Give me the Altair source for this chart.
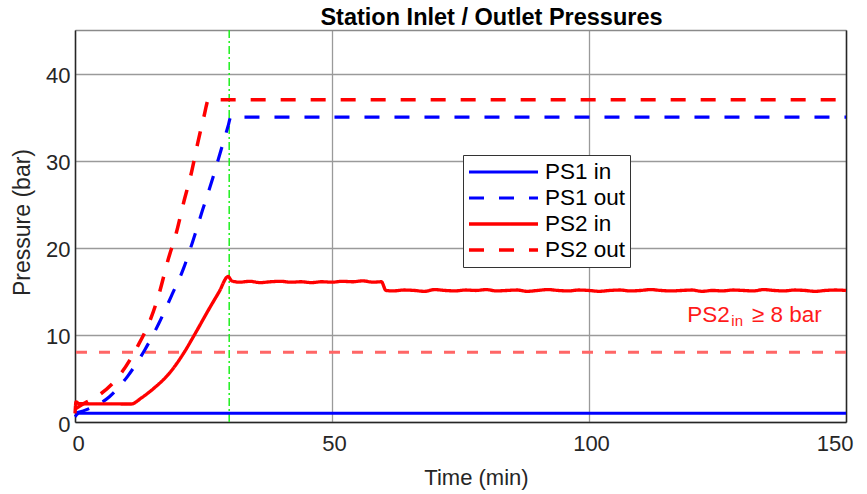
import altair as alt
import pandas as pd

# ---------------- data ----------------
SERIES = ["PS1 in", "PS1 out", "PS2 in", "PS2 out"]

ps1_in_t = [0, 0.8, 150]
ps1_in_p = [0.6, 1.0, 1.0]

ps1_out_t = [0, 3, 6.7, 10.3, 13.6, 16.3, 18.7, 21.1, 23, 24.8, 26.6, 28.2, 29.8, 30.3, 150]
ps1_out_p = [1.0, 1.6, 2.9, 5.3, 8.3, 11.3, 14.4, 17.6, 20.9, 24.3, 27.6, 30.8, 34.0, 35.0, 35.0]

ps2_out_t = [0, 2, 4.7, 9.1, 12.1, 14.7, 16.3, 18.1, 19.7, 21.1, 22.6, 23.8, 25.1, 26, 150]
ps2_out_p = [1.5, 2.2, 3.1, 5.7, 8.6, 11.8, 14.6, 18.6, 21.7, 25.1, 28.5, 31.8, 35.1, 37.0, 37.0]

ps2_in_ramp_t = [0, 0.2, 0.8, 10.9, 13, 15.2, 18.5, 21.4, 23.3, 26.3, 28, 29.8]
ps2_in_ramp_p = [1.0, 2.3, 2.1, 2.07, 2.8, 3.8, 5.7, 8.15, 10.07, 13.2, 14.9, 16.7]

ps2_in_hold1_t = [30.5, 32, 34, 36, 38, 40, 42, 44, 46, 48, 50, 52, 54, 56, 58, 59.6]
ps2_in_hold1_p = [16.2, 16.05, 16.15, 16.0, 16.1, 16.15, 16.05, 16.1, 16.0, 16.1,
                  16.05, 16.15, 16.1, 16.2, 16.05, 16.1]

ps2_in_hold2_t = [60.5] + list(range(62, 151, 2))
ps2_in_hold2_p = [15.1, 15.05, 15.15, 15.1, 15.0, 15.2, 15.1, 15.05, 15.15, 15.1,
                  15.2, 15.05, 15.1, 15.15, 15.0, 15.1, 15.2, 15.1, 15.05, 15.15,
                  15.1, 15.0, 15.1, 15.15, 15.05, 15.1, 15.2, 15.1, 15.05, 15.1,
                  15.15, 15.0, 15.1, 15.05, 15.15, 15.1, 15.05, 15.2, 15.1, 15.05,
                  15.15, 15.1, 15.0, 15.1, 15.15, 15.1]

threshold_p = [8]
event_t = [30]

x_ticks = [0, 50, 100, 150]
y_ticks = [0, 10, 20, 30, 40]

# ---------------- tables ----------------
rows = []
series_points = [
    ("PS1 in", ps1_in_t, ps1_in_p),
    ("PS1 out", ps1_out_t, ps1_out_p),
    ("PS2 in", ps2_in_ramp_t + ps2_in_hold1_t + ps2_in_hold2_t,
     ps2_in_ramp_p + ps2_in_hold1_p + ps2_in_hold2_p),
    ("PS2 out", ps2_out_t, ps2_out_p),
]
for name, ts, ps in series_points:
    for i, (t, p) in enumerate(zip(ts, ps)):
        rows.append({"series": name, "t": t, "p": p, "order": i})
df = pd.DataFrame(rows)

FONT = "Liberation Sans"
TXT = "#262626"
GRID = "#9a9a9a"

x_scale = alt.Scale(domain=[0, 150], nice=False, zero=False)
y_scale = alt.Scale(domain=[0, 45], nice=False, zero=False)

x_axis = alt.Axis(
    values=x_ticks, title="Time (min)", grid=True, gridColor=GRID, gridWidth=1.3,
    domainColor=TXT, domainWidth=1.5, ticks=False, labelPadding=11,
    labelFont=FONT, labelFontSize=22, labelColor=TXT,
    labelFlush=True, labelFlushOffset=5, labelOffset=2,
    titleFont=FONT, titleFontSize=22, titleFontWeight="normal", titleColor=TXT,
    titleX=401, titleY=62, titleBaseline="alphabetic", titleAlign="center",
)
y_axis = alt.Axis(
    values=y_ticks, title="Pressure (bar)", grid=True, gridColor=GRID, gridWidth=1.3,
    domainColor=TXT, domainWidth=1.5, ticks=False, labelPadding=5,
    labelFont=FONT, labelFontSize=22, labelColor=TXT, labelOffset=2,
    titleFont=FONT, titleFontSize=23, titleFontWeight="normal", titleColor=TXT,
    titleAngle=270, titleX=-46, titleY=192, titleBaseline="alphabetic", titleAlign="center",
)

color_scale = alt.Scale(domain=SERIES, range=["#0000ff", "#0000ff", "#ff0000", "#ff0000"])
dash_scale = alt.Scale(domain=SERIES, range=[[1, 0], [15, 15], [1, 0], [15, 15]])
width_scale = alt.Scale(domain=SERIES, range=[3, 3.5, 3, 3.5])

lines = alt.Chart(df).mark_line(strokeCap="butt", strokeJoin="miter", interpolate="monotone").encode(
    x=alt.X("t:Q", scale=x_scale, axis=x_axis),
    y=alt.Y("p:Q", scale=y_scale, axis=y_axis),
    color=alt.Color("series:N", scale=color_scale, legend=alt.Legend(title=None)),
    strokeDash=alt.StrokeDash("series:N", scale=dash_scale, legend=alt.Legend(title=None)),
    strokeWidth=alt.StrokeWidth("series:N", scale=width_scale, legend=None),
    order="order:Q",
)

thr = alt.Chart(pd.DataFrame({"p": threshold_p})).mark_rule(
    color="#ff6666", strokeWidth=3, strokeDash=[11, 12]
).encode(y=alt.Y("p:Q", scale=y_scale, axis=None))

event = alt.Chart(pd.DataFrame({"t": event_t})).mark_rule(
    color="#1ef01e", strokeWidth=1.5, strokeDash=[8, 3, 2, 3]
).encode(x=alt.X("t:Q", scale=x_scale, axis=None))

ann_df = pd.DataFrame({"t": [127.4], "p": [11.5]})
ann_main = alt.Chart(ann_df).mark_text(
    text="PS2", align="right", baseline="alphabetic", font=FONT, fontSize=22.5, color="#ff1a1a"
).encode(x=alt.X("t:Q", scale=x_scale, axis=None), y=alt.Y("p:Q", scale=y_scale, axis=None))
ann_sub = alt.Chart(ann_df).mark_text(
    text="in", align="left", baseline="alphabetic", font=FONT, fontSize=15, color="#ff1a1a", dx=1.5, dy=4
).encode(x=alt.X("t:Q", scale=x_scale, axis=None), y=alt.Y("p:Q", scale=y_scale, axis=None))
ann_rest = alt.Chart(ann_df).mark_text(
    text="≥ 8 bar", align="left", baseline="alphabetic", font=FONT, fontSize=22.5, color="#ff1a1a", dx=22
).encode(x=alt.X("t:Q", scale=x_scale, axis=None), y=alt.Y("p:Q", scale=y_scale, axis=None))

frame = alt.Chart(pd.DataFrame({"t": [0], "p": [0]})).mark_point(opacity=0).encode(
    x=alt.X("t:Q", scale=x_scale, axis=alt.Axis(orient="top", labels=False, ticks=False, grid=False,
                                               domainColor="#8a8a8a", domainWidth=1.5, title=None)),
    y=alt.Y("p:Q", scale=y_scale, axis=alt.Axis(orient="right", labels=False, ticks=False, grid=False,
                                               domainColor=TXT, domainWidth=1.5, title=None)),
)

chart = alt.layer(thr, event, lines, ann_main, ann_sub, ann_rest, frame).resolve_axis(
    x="independent", y="independent"
).properties(
    width=771, height=392,
    autosize=alt.AutoSizeParams(type="none"),
    padding={"left": 75, "top": 30, "right": 21, "bottom": 72},
    title=alt.Title("Station Inlet / Outlet Pressures", font=FONT, fontSize=23.5, fontWeight="bold",
                    color="#000000", dx=31, offset=0, anchor="middle"),
).configure_view(stroke=None).configure_legend(
    orient="none", legendX=388, legendY=125, symbolType="stroke", symbolSize=4761,
    symbolStrokeWidth=3, clipHeight=26, labelOffset=5, labelFont=FONT, labelFontSize=22.5,
    labelColor="#000000", padding=4, strokeColor="#333333", fillColor="white", rowPadding=0,
    symbolOffset=0, labelLimit=300,
)

chart.save("out.html", embed_options={"renderer": "svg", "actions": False})
